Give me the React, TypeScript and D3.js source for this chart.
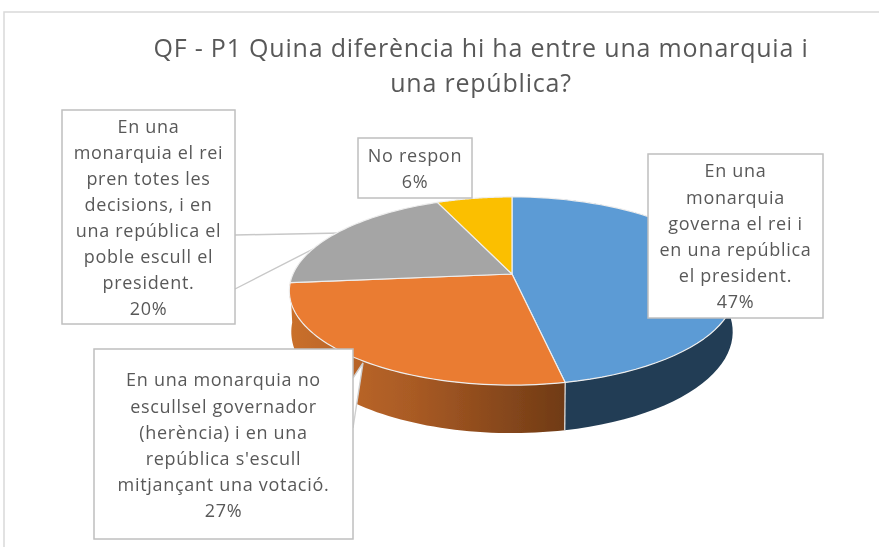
import React from "react";
import * as d3 from "d3";

const W = 879, H = 547;
const titleLines = ["QF - P1 Quina diferència hi ha entre una monarquia i", "una república?"];
const shares = [46.8, 26.7, 20, 6.5];
const topColors = ["#5b9bd5", "#ea7b30", "#a5a5a5", "#fbbf00"];
const labelLines = [
  ["En una", "monarquia", "governa el rei i", "en una república", "el president.", "47%"],
  ["En una monarquia no", "escullsel governador", "(herència) i en una", "república s'escull", "mitjançant una votació.", "27%"],
  ["En una", "monarquia el rei", "pren totes les", "decisions, i en", "una república el", "poble escull el", "president.", "20%"],
  ["No respon", "6%"],
];

// Perspective projection of the pie's disc
const CX = 512, CY = 274, A = 219, B = 91, K = 0.181;
const project = (t: number, r = 1): [number, number] => {
  const u = r * Math.sin(t), v = -r * Math.cos(t), d = 1 - K * v;
  return [CX + (A * u) / d, CY + (B * v) / d];
};
const projectLow = (t: number): [number, number] => {
  const [x, y] = project(t);
  const v = -Math.cos(t);
  return [x - 2 * Math.sin(t), y + 39 + 9 * v];
};
const slices = d3.pie<number>().sort(null).value((d) => d)(shares);
const samples = (a: number, b: number) => d3.range(0, 61).map((i) => a + ((b - a) * i) / 60);
const line = d3.line<[number, number]>();
const topPath = (a: number, b: number) =>
  line([[CX, CY], ...samples(a, b).map((t) => project(t))])! + "Z";
const sidePath = (a: number, b: number) =>
  line([...samples(a, b).map((t) => project(t)), ...samples(a, b).reverse().map(projectLow)])! + "Z";

type Box = { x: number; y: number; w: number; h: number; first: number; step: number; wedge?: [number, number][] };
const boxes: Box[] = [
  { x: 648, y: 154, w: 175, h: 164, first: 171, step: 26.2 },
  { x: 94, y: 349, w: 259, h: 190, first: 380, step: 26.2,
    wedge: [[353, 378], [363, 363], [353, 428]] },
  { x: 62, y: 110, w: 173, h: 214, first: 127, step: 25.9,
    wedge: [[235, 235], [342, 233], [317, 247], [235, 289]] },
  { x: 358, y: 138, w: 114, h: 60, first: 156, step: 26 },
];
const FONT = "'Open Sans', sans-serif";

export default function App() {
  return (
    <svg width={W} height={H} style={{ position: "fixed", left: 0, top: 0, background: "#fff" }}>
      <defs>
        <linearGradient id="sideOrange" gradientUnits="userSpaceOnUse" x1={292} x2={567} y1={0} y2={0}>
          <stop offset="0" stopColor="#c96f2c" />
          <stop offset="0.45" stopColor="#a85a24" />
          <stop offset="1" stopColor="#6f3a15" />
        </linearGradient>
        <filter id="soft"><feGaussianBlur stdDeviation="0.55" /></filter>
      </defs>
      <path d={`M879,12H4V547`} fill="none" stroke="#d9d9d9" strokeWidth={1.5} />
      <g filter="url(#soft)">
        <path d={sidePath(slices[0].startAngle, slices[0].endAngle)} fill="#243e55" />
        <path d={sidePath(slices[1].startAngle, slices[1].endAngle)} fill="url(#sideOrange)" />
        <line
          x1={project(slices[1].startAngle)[0]} y1={project(slices[1].startAngle)[1]}
          x2={projectLow(slices[1].startAngle)[0]} y2={projectLow(slices[1].startAngle)[1]}
          stroke="#e6e6e6" strokeWidth={1.2} />
        {boxes.map((b, i) => b.wedge && (
          <path key={i} d={line(b.wedge)!} fill="#fff" stroke={i === 1 ? "#cfcfcf" : "#c8c8c8"} strokeWidth={1.4} />
        ))}
        {slices.map((s, i) => (
          <path key={i} d={topPath(s.startAngle, s.endAngle)} fill={topColors[i]} stroke="#eeeeee" strokeWidth={1.2} strokeLinejoin="round" />
        ))}
        {boxes.map((b, i) => (
          <rect key={i} x={b.x} y={b.y} width={b.w} height={b.h} fill="#fff" stroke="#bfbfbf" strokeWidth={1.5} />
        ))}
        {boxes.map((b, i) => (
          <text key={i} textAnchor="middle" fontFamily={FONT} fontSize={18} fill="#595959" letterSpacing={0.7}>
            {labelLines[i].map((l, j) => (
              <tspan key={j} x={b.x + b.w / 2} y={b.first + j * b.step} dy="0.36em">{l}</tspan>
            ))}
          </text>
        ))}
        <text textAnchor="middle" fontFamily={FONT} fontSize={25} fill="#595959" letterSpacing={0.8}>
          {titleLines.map((l, j) => (
            <tspan key={j} x={481} y={57 + j * 35}>{l}</tspan>
          ))}
        </text>
      </g>
    </svg>
  );
}
